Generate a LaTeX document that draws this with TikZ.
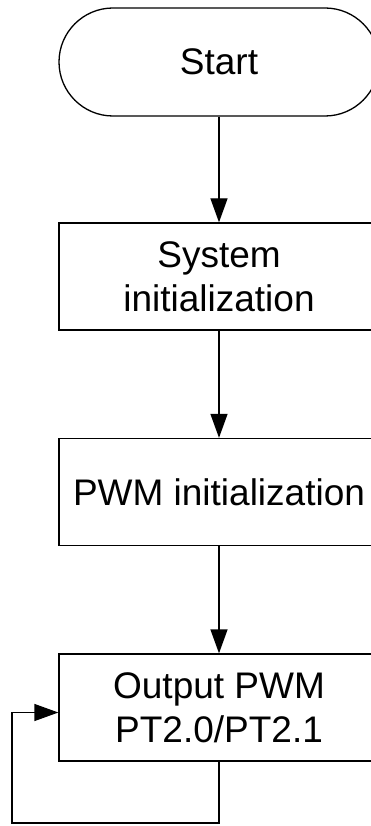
\documentclass[tikz,border=0pt]{standalone}
\usepackage{fontspec}
\setmainfont{Liberation Sans}
\usetikzlibrary{positioning, arrows.meta}
\tikzstyle{Arrow} = [
%flow arrow with a big filled head
line width = 1.3pt,
-{Triangle[length = 24pt, width = 17pt]}
]

\begin{document}
\begin{tikzpicture}[x = 1pt, y = 1pt,
		terminal/.style = {rectangle, rounded corners = 54pt, draw, line width = 1.3pt, minimum width = 320pt, minimum height = 108pt, text centered},
		process/.style = {rectangle, draw, line width = 1.3pt, minimum width = 320pt, minimum height = 107pt, align = center},
		font = \fontsize{37}{44}\selectfont
	]
	\useasboundingbox (0,0) rectangle (371,-826);
	\clip (0,0) rectangle (371,-826);

	\node[terminal](start) at (219,-62){Start};
	\node[process](sysinit) at (219,-276.5){System\\initialization};
	\node[process](pwminit) at (219,-492){PWM initialization};
	\node[process](output) at (219,-707.5){Output PWM\\PT2.0/PT2.1};

	% loop back corners
	\coordinate(loopdown) at (219,-823);
	\coordinate(loopleft) at (12,-823);
	\coordinate(loopup) at (12,-712.5);

	\draw[Arrow](start)--(sysinit);
	\draw[Arrow](sysinit)--(pwminit);
	\draw[Arrow](pwminit)--(output);
	\draw[Arrow](output.south)--(loopdown)--(loopleft)--(loopup)--(loopup -| output.west);

\end{tikzpicture}
\end{document}
